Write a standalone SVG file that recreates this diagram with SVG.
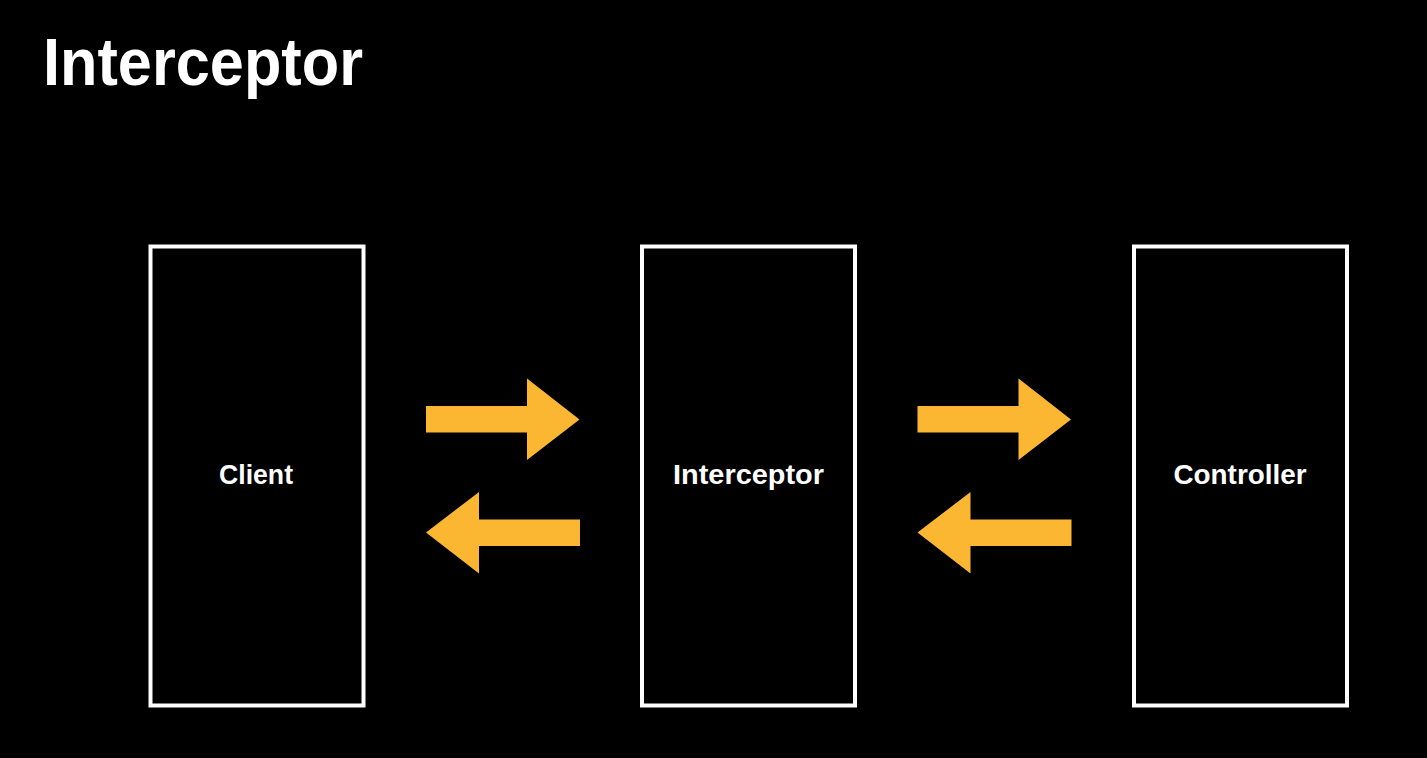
<svg xmlns="http://www.w3.org/2000/svg" width="1427" height="758" viewBox="0 0 1427 758">
  <style>
    .box { fill: #000; stroke: #ffffff; stroke-width: 4; }
    .label { font-family: "Liberation Sans", Arial, sans-serif; font-weight: bold; fill: #ffffff; font-size: 28px; text-anchor: middle; }
    .title { font-family: "Liberation Sans", Arial, sans-serif; font-weight: bold; fill: #ffffff; font-size: 67px; }
    .arrow { fill: #FBB632; }
  </style>
  <rect x="0" y="0" width="1427" height="758" fill="#000"/>
  <text class="title" x="43" y="85" textLength="320" lengthAdjust="spacingAndGlyphs">Interceptor</text>

  <g id="client">
    <rect class="box" x="150.5" y="246.5" width="213" height="459"/>
    <text class="label" x="256" y="484" textLength="74" lengthAdjust="spacingAndGlyphs">Client</text>
  </g>
  <g id="interceptor">
    <rect class="box" x="642" y="246.5" width="213" height="459"/>
    <text class="label" x="748.5" y="484" textLength="151" lengthAdjust="spacingAndGlyphs">Interceptor</text>
  </g>
  <g id="controller">
    <rect class="box" x="1134" y="246.5" width="213" height="459"/>
    <text class="label" x="1240" y="484" textLength="133" lengthAdjust="spacingAndGlyphs">Controller</text>
  </g>

  <g id="connectors">
    <polygon class="arrow" points="426,406 527,406 527,378.5 579.5,419.5 527,460 527,432.5 426,432.5"/>
    <polygon class="arrow" points="580,519.5 479,519.5 479,492 426,532.5 479,573.5 479,546 580,546"/>
    <polygon class="arrow" points="917.5,406 1018.5,406 1018.5,378.5 1071,419.5 1018.5,460 1018.5,432.5 917.5,432.5"/>
    <polygon class="arrow" points="1071.5,519.5 970.5,519.5 970.5,492 917.5,532.5 970.5,573.5 970.5,546 1071.5,546"/>
  </g>
</svg>
